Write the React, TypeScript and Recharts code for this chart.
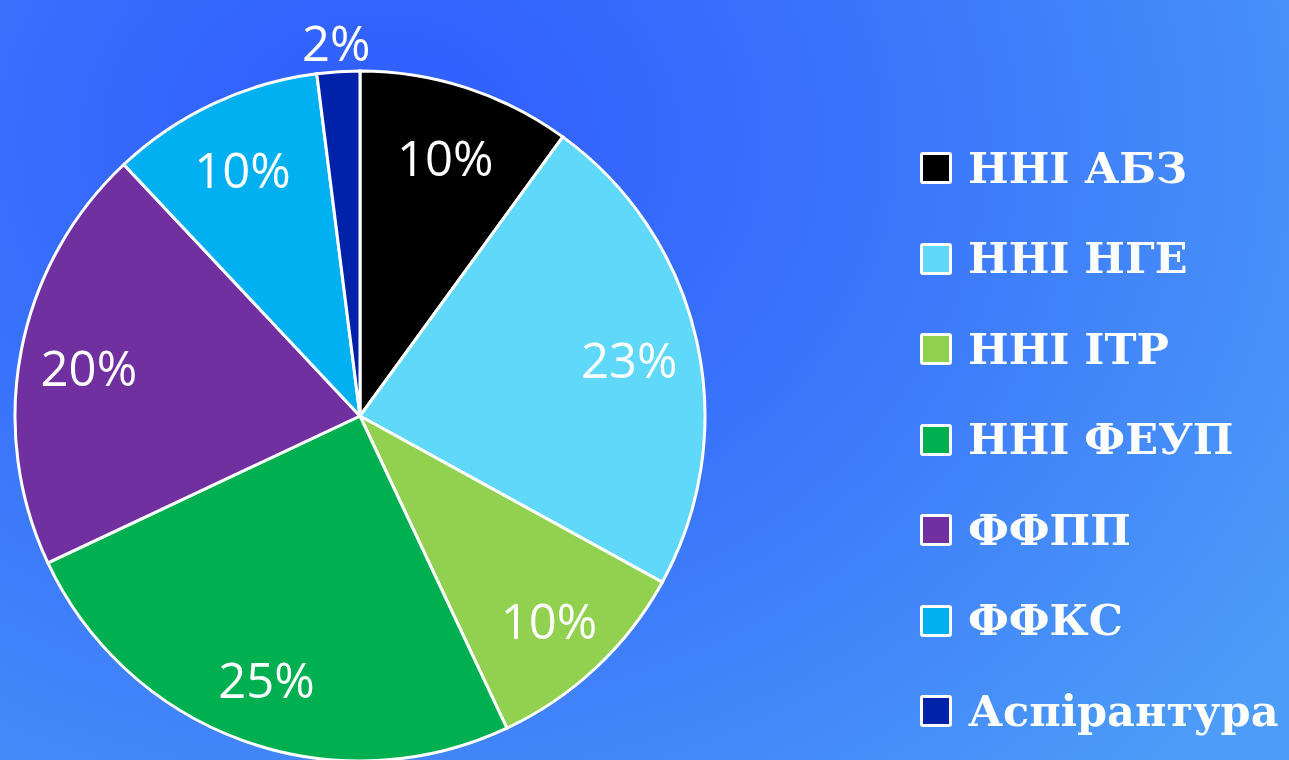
import React from "react";
import { PieChart, Pie, Cell, Legend } from "recharts";

const units = ["ННІ АБЗ", "ННІ НГЕ", "ННІ ІТР", "ННІ ФЕУП", "ФФПП", "ФФКС", "Аспірантура"];
const shares = [10, 23, 10, 25, 20, 10, 2];
const colors = ["#000000", "#5fd8fa", "#92d050", "#00b050", "#7030a0", "#00b0f0", "#0022a8"];

const data = units.map((name, i) => ({ name, value: shares[i] }));

const RAD = Math.PI / 180;

const renderLabel = (props: any) => {
  const { cx, cy, midAngle, outerRadius, value } = props;
  // small slices get their label outside the pie
  const r = value < 5 ? outerRadius + 33 : outerRadius * 0.8;
  const x = cx + r * Math.cos(-midAngle * RAD);
  const y = cy + r * Math.sin(-midAngle * RAD) + 3;
  return (
    <text
      x={x}
      y={y}
      fill="#fff"
      textAnchor="middle"
      dominantBaseline="central"
      fontFamily="'Open Sans', sans-serif"
      fontWeight={400}
      fontSize={49}
    >
      {value}%
    </text>
  );
};

const renderLegend = () => (
  <div>
    {units.map((name, i) => (
      <div
        key={name}
        style={{ display: "flex", alignItems: "center", height: 90.5 }}
      >
        <div
          style={{
            width: 26,
            height: 26,
            background: colors[i],
            border: "3px solid #fff",
            borderRadius: 3,
            marginRight: 16,
          }}
        />
        <span
          style={{
            color: "#fff",
            fontFamily: "'DejaVu Serif', serif",
            fontWeight: "bold",
            fontSize: 43,
            lineHeight: 1,
          }}
        >
          {name}
        </span>
      </div>
    ))}
  </div>
);

export default function App() {
  return (
    <div
      style={{
        position: "fixed",
        top: 0,
        left: 0,
        width: 1289,
        height: 760,
        overflow: "hidden",
        background:
          "radial-gradient(ellipse 1100px 900px at 380px 140px, #2f5cff 0%, #3a74fb 45%, #4c9cf8 100%)",
      }}
    >
      <PieChart width={1289} height={760}>
        <Pie
          data={data}
          dataKey="value"
          nameKey="name"
          cx={355}
          cy={411}
          outerRadius={345}
          startAngle={90}
          endAngle={-270}
          stroke="#fff"
          strokeWidth={3}
          labelLine={false}
          label={renderLabel}
          isAnimationActive={false}
        >
          {data.map((d, i) => (
            <Cell key={d.name} fill={colors[i]} />
          ))}
        </Pie>
        <Legend
          content={renderLegend}
          wrapperStyle={{ left: 920, top: 123, width: 369 }}
        />
      </PieChart>
    </div>
  );
}
